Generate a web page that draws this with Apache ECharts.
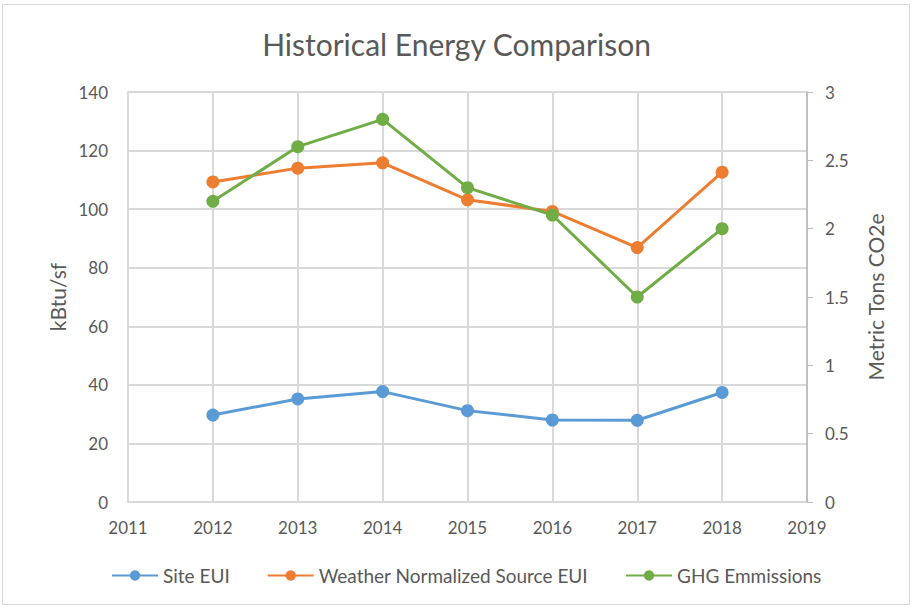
<!DOCTYPE html>
<html>
<head>
<meta charset="utf-8">
<script src="https://cdn.jsdelivr.net/npm/echarts@6/dist/echarts.min.js"></script>
<style>
  html, body { margin: 0; padding: 0; background: #fff; }
  #chart { width: 913px; height: 609px; }
</style>
</head>
<body>
<div id="chart"></div>
<script>
(function() {
  var years = [2012, 2013, 2014, 2015, 2016, 2017, 2018];
  var siteEui = [29.7, 35.2, 37.7, 31.2, 28.0, 27.9, 37.4];
  var sourceEui = [109.3, 114.0, 115.8, 103.2, 99.2, 86.9, 112.6];
  var ghg = [2.2, 2.6, 2.8, 2.3, 2.1, 1.5, 2.0];

  var text = '#595959';
  var grid = '#d9d9d9';
  var font = 'Lato, "Open Sans", sans-serif';

  function pairs(vals) {
    return years.map(function(y, i) { return [y, vals[i]]; });
  }

  function line(name, vals, color, yIndex) {
    return {
      name: name,
      type: 'line',
      yAxisIndex: yIndex,
      data: pairs(vals),
      symbol: 'circle',
      symbolSize: 13,
      lineStyle: { color: color, width: 3 },
      itemStyle: { color: color },
      emphasis: { disabled: true }
    };
  }

  var chart = echarts.init(document.getElementById('chart'), null, { renderer: 'svg' });
  chart.setOption({
    animation: false,
    title: {
      text: 'Historical Energy Comparison',
      left: 'center',
      top: 24,
      textStyle: { color: text, fontSize: 30, fontWeight: 'normal', fontFamily: font }
    },
    legend: {
      bottom: 19,
      left: 106,
      itemWidth: 46,
      itemHeight: 13,
      itemGap: 37,
      textStyle: { color: text, fontSize: 19, fontFamily: font }
    },
    grid: { left: 128, right: 106, top: 92, bottom: 107 },
    xAxis: {
      type: 'value',
      min: 2011,
      max: 2019,
      interval: 1,
      axisLine: { show: true, lineStyle: { color: grid, width: 1 } },
      axisTick: { show: false },
      axisLabel: {
        color: text, fontSize: 17, fontFamily: font, margin: 17,
        formatter: function(v) { return String(v); }
      },
      splitLine: { show: true, lineStyle: { color: grid, width: 2 } }
    },
    yAxis: [
      {
        type: 'value',
        min: 0,
        max: 140,
        interval: 20,
        name: 'kBtu/sf',
        nameLocation: 'middle',
        nameGap: 60,
        nameTextStyle: { color: text, fontSize: 21, fontFamily: font },
        axisLine: { show: true, lineStyle: { color: grid, width: 2 } },
        axisTick: { show: false },
        axisLabel: { color: text, fontSize: 17, fontFamily: font, margin: 20 },
        splitLine: { show: true, lineStyle: { color: grid, width: 2 } }
      },
      {
        type: 'value',
        min: 0,
        max: 3,
        interval: 0.5,
        name: 'Metric Tons CO2e',
        nameLocation: 'middle',
        nameGap: 58,
        nameRotate: 90,
        nameTextStyle: { color: text, fontSize: 21, fontFamily: font },
        axisLine: { show: true, lineStyle: { color: '#bfbfbf', width: 2 } },
        axisTick: { show: true, length: 6, lineStyle: { color: '#bfbfbf' } },
        axisLabel: { color: text, fontSize: 17, fontFamily: font, margin: 18 },
        splitLine: { show: false }
      }
    ],
    series: [
      line('Site EUI', siteEui, '#5b9bd5', 0),
      line('Weather Normalized Source EUI', sourceEui, '#ed7d31', 0),
      line('GHG Emmissions', ghg, '#70ad47', 1)
    ],
    graphic: [{
      type: 'rect',
      shape: { x: 2.5, y: 4.5, width: 907, height: 600 },
      style: { fill: 'none', stroke: '#d9d9d9', lineWidth: 1 },
      silent: true
    }]
  });
  window.addEventListener('resize', function() { chart.resize(); });
})();
</script>
</body>
</html>
